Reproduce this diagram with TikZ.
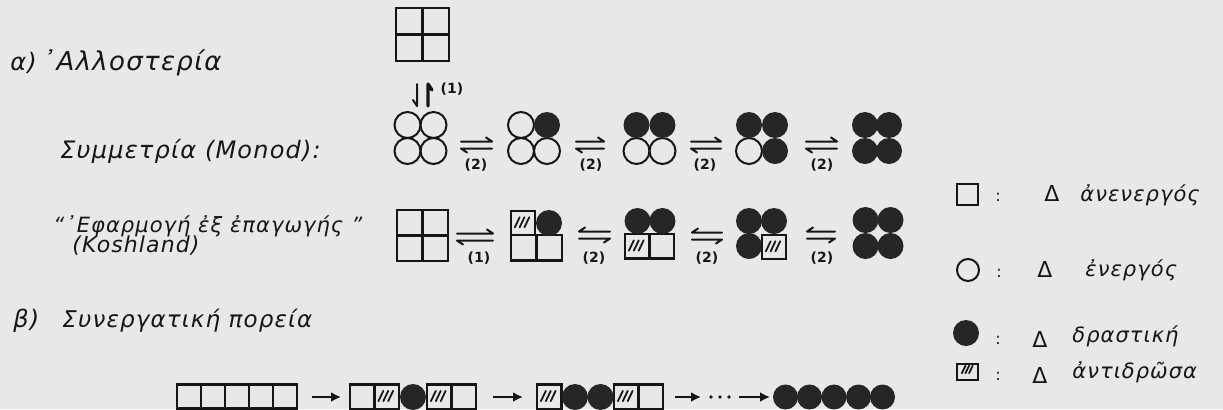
\documentclass[tikz,border=0pt]{standalone}
\usepackage{fontspec}
\setmainfont{DejaVu Sans}
\newfontfamily\handfont{DejaVu Sans}[UprightFont=* Oblique, LetterSpace=5]
\usetikzlibrary{arrows.meta,calc}
\definecolor{paper}{RGB}{232,232,232}
\definecolor{ink}{RGB}{22,22,22}
\definecolor{fillc}{RGB}{38,38,38}
\newcommand\mksq[3]{\draw[sq] (#1,#2) rectangle ++(#3,#3);}
\newcommand\mkgrid[3]{\draw[sq] (#1,#2) rectangle ++(#3,#3);
  \draw[sq] ($(#1,#2)+(#3/2,0)$) -- ++(0,#3);
  \draw[sq] ($(#1,#2)+(0,#3/2)$) -- ++(#3,0);}
\newcommand\mkhatch[3]{\foreach \hh in {0,0.2,0.4}{\draw[hatchl] ($(#1,#2)+(0.16*#3+\hh*#3,0.68*#3)$) -- ++(0.2*#3,-0.42*#3);}}
\newcommand\mkhsq[3]{\mksq{#1}{#2}{#3}\mkhatch{#1}{#2}{#3}}
\newcommand\mkoc[2]{\draw[oc] (#1,#2) circle[radius=13];}
\newcommand\mkfc[3][13]{\fill[fc] (#2,#3) circle[radius=#1];}
\begin{document}
\begin{tikzpicture}[x=0.5pt,y=-0.5pt,
  sq/.style={draw=ink, line width=1.1pt},
  oc/.style={draw=ink, line width=1pt},
  fc/.style={fill=fillc},
  hatchl/.style={draw=ink, line width=0.9pt, line cap=round},
  harp/.style={draw=ink, line width=1pt, line cap=round, line join=round},
  eqR/.style={harp, to path={($(\tikztostart)+(0,-3.5)$) -- ($(\tikztotarget)+(0,-3.5)$) -- ++(-6,-4)
      ($(\tikztotarget)+(0,3.5)$) -- ($(\tikztostart)+(0,3.5)$) -- ++(6,4)}},
  eqL/.style={harp, to path={($(\tikztotarget)+(0,-3.5)$) -- ($(\tikztostart)+(0,-3.5)$) -- ++(6,-4)
      ($(\tikztostart)+(0,3.5)$) -- ($(\tikztotarget)+(0,3.5)$) -- ++(-6,4)}},
  chainarr/.style={draw=ink, line width=1.3pt, -{Latex[length=5pt,width=5pt]}},
  hand/.style={font=\handfont\fontsize{#1}{#1}\selectfont, text=ink, inner sep=0pt, anchor=base west},
  hand/.default=11,
  num/.style={font=\fontsize{7}{8}\selectfont\bfseries, text=ink, inner sep=0pt},
  sym/.style={font=\fontsize{8}{9}\selectfont, text=ink, inner sep=0pt},
  tri/.style={font=\fontsize{11}{12}\selectfont, text=ink, inner sep=0pt}]
\fill[paper] (0,0) rectangle (1223,409);
\useasboundingbox (0,0) rectangle (1223,409);
\clip (0,0) rectangle (1223,409);

% ---- left texts
\node[hand=12] (ta) at (10,70) {α)};
\node[hand=13] (tallo) at (42,70) {᾿Αλλοστερία};
\node[hand=12] (tmon) at (60,158) {Συμμετρία (Monod):};
\node[hand=10.5] (teph) at (53,232) {“᾿Εφαρμογή ἐξ ἐπαγωγής\hspace{4pt}”};
\node[hand=11] (tkosh) at (72,252) {(Koshland)};
\node[hand=12] (tb) at (13,327) {β)};
\node[hand=11.5] (tsyn) at (62,327) {Συνεργατική πορεία};

% ---- top square and vertical equilibrium
\mkgrid{396}{8}{53}
\coordinate (v1a) at (417,84); \coordinate (v1b) at (417,106);
\coordinate (v2a) at (428,106); \coordinate (v2b) at (428,84);
\draw[harp] (v1a) -- (v1b) -- ++(-4,-6);
\draw[harp, line width=1.6pt] (v2a) -- (v2b) -- ++(4,6);
\node[num] (lab0) at (452,89) {(1)};

% ---- Monod row
\mkoc{407.5}{125}\mkoc{433.5}{125}\mkoc{407.5}{151}\mkoc{433.5}{151}
\mkoc{521}{125}\mkoc{521}{151}\mkoc{547}{151}\mkfc{547}{125}
\mkoc{636.5}{151}\mkoc{662.5}{151}\mkfc{636.5}{125}\mkfc{662.5}{125}
\mkoc{749}{151}\mkfc{749}{125}\mkfc{775}{125}\mkfc{775}{151}
\mkfc{865}{125}\mkfc{889}{125}\mkfc{865}{151}\mkfc{889}{151}
\coordinate (m1a) at (461,145); \coordinate (m1b) at (492,145);
\coordinate (m2a) at (576,145); \coordinate (m2b) at (604,145);
\coordinate (m3a) at (691,145); \coordinate (m3b) at (721,145);
\coordinate (m4a) at (806,145); \coordinate (m4b) at (837,145);
\draw[eqR] (m1a) to (m1b);
\draw[eqR] (m2a) to (m2b);
\draw[eqR] (m3a) to (m3b);
\draw[eqR] (m4a) to (m4b);
\node[num] (lm1) at (476,165) {(2)};
\node[num] (lm2) at (591,165) {(2)};
\node[num] (lm3) at (705,165) {(2)};
\node[num] (lm4) at (822,165) {(2)};

% ---- Koshland row
\mkgrid{397}{210}{51}
\mkhsq{511}{211}{24}
\mksq{511}{235}{25.5}\mksq{536.5}{235}{25.5}
\mkfc{549}{223}
\mkhsq{625}{234}{24.5}\mksq{649.5}{234}{24.5}
\mkfc{637.5}{221}\mkfc{662.5}{221}
\mkfc{749}{221}\mkfc{774}{221}\mkfc{749}{246}
\mkhsq{762}{235}{24}
\mkfc{865.5}{220}\mkfc{890.5}{220}\mkfc{865.5}{246}\mkfc{890.5}{246}
\coordinate (k1a) at (457,237); \coordinate (k1b) at (493,237);
\coordinate (k2a) at (579,235); \coordinate (k2b) at (610,235);
\coordinate (k3a) at (692,236); \coordinate (k3b) at (722,236);
\coordinate (k4a) at (807,235); \coordinate (k4b) at (835,235);
\draw[eqR] (k1a) to (k1b);
\draw[eqL] (k2a) to (k2b);
\draw[eqL] (k3a) to (k3b);
\draw[eqL] (k4a) to (k4b);
\node[num] (lk1) at (479,258) {(1)};
\node[num] (lk2) at (594,258) {(2)};
\node[num] (lk3) at (707,258) {(2)};
\node[num] (lk4) at (822,258) {(2)};

% ---- cooperative chain
\mksq{177}{384.5}{24}\mksq{201}{384.5}{24}\mksq{225}{384.5}{24}\mksq{249}{384.5}{24}\mksq{273}{384.5}{24}
\mksq{350}{384.5}{24.5}\mkhsq{374.5}{384.5}{24.5}\mkfc{413}{397}\mkhsq{427}{384.5}{24.5}\mksq{451.5}{384.5}{24.5}
\mkhsq{537}{384.5}{24.5}\mkfc{575}{397}\mkfc{600.5}{397}\mkhsq{614}{384.5}{24.5}\mksq{638.5}{384.5}{24.5}
\mkfc[12.5]{785.5}{397}\mkfc[12.5]{809.5}{397}\mkfc[12.5]{834}{397}\mkfc[12.5]{858.5}{397}\mkfc[12.5]{882.5}{397}
\coordinate (ca1) at (312,397); \coordinate (cb1) at (341,397);
\coordinate (ca2) at (493,397); \coordinate (cb2) at (523,397);
\coordinate (ca3) at (675,397); \coordinate (cb3) at (701,397);
\coordinate (ca4) at (739,397); \coordinate (cb4) at (770,397);
\draw[chainarr] (ca1) -- (cb1);
\draw[chainarr] (ca2) -- (cb2);
\draw[chainarr] (ca3) -- (cb3);
\draw[chainarr] (ca4) -- (cb4);
\fill[ink] (711,397) circle[radius=1.8] (720,397) circle[radius=1.8] (729,397) circle[radius=1.8];

% ---- legend
\draw[sq] (957,184) rectangle (978,205);
\draw[oc] (968,270) circle[radius=11];
\fill[fc] (966,333) circle[radius=13];
\draw[sq] (957,364) rectangle (978,380);
\mkhatch{959}{361}{18}
\node[sym] (c1) at (998,197) {:};
\node[sym] (c2) at (999,273) {:};
\node[sym] (c3) at (998,340) {:};
\node[sym] (c4) at (998,376) {:};
\node[tri] (d1) at (1052,193) {Δ};
\node[tri] (d2) at (1045,269) {Δ};
\node[tri] (d3) at (1040,339) {Δ};
\node[tri] (d4) at (1040,375) {Δ};
\node[hand=10.5] (l1t) at (1080,201) {ἀνενεργός};
\node[hand=10.5] (l2t) at (1085,276) {ἐνεργός};
\node[hand=10.5] (l3t) at (1072,342) {δραστική};
\node[hand=10.5] (l4t) at (1072,378) {ἀντιδρῶσα};
\end{tikzpicture}
\end{document}
